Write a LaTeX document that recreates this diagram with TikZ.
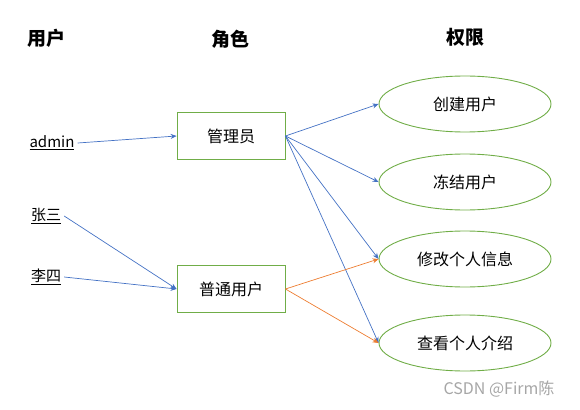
\documentclass[tikz,border=0pt]{standalone}
\usepackage{fontspec}
\setmainfont{Noto Sans CJK SC}
\usepackage{xcolor}
\usepackage{tikz}
\usetikzlibrary{shapes.geometric,arrows.meta}
\definecolor{boxgreen}{RGB}{112,173,71}
\definecolor{linkblue}{RGB}{68,114,196}
\definecolor{linkorange}{RGB}{237,125,49}
\tikzstyle{head}=[font=\fontsize{19}{21}\selectfont\bfseries]
\tikzstyle{user}=[font=\fontsize{15}{17}\selectfont,inner sep=3pt]
\tikzstyle{role}=[draw=boxgreen,line width=0.9pt,minimum width=108pt,minimum height=47pt,font=\fontsize{16}{18}\selectfont]
\tikzstyle{perm}=[ellipse,draw=boxgreen,line width=0.9pt,minimum width=172pt,minimum height=56pt,inner sep=0pt,font=\fontsize{16}{18}\selectfont]
\tikzstyle{link}=[line width=0.7pt,-{Stealth[length=6pt,width=5pt]}]

\begin{document}
\begin{tikzpicture}[x=1pt,y=-1pt]
    \useasboundingbox (0,0) rectangle (580,409);
    % column heads
    \node[head] (hUser) at (46,38) {用户};
    \node[head] (hRole) at (230,39) {角色};
    \node[head] (hPerm) at (465,37) {权限};
    % users
    \node[user] (admin) at (52,143) {\underline{admin}};
    \node[user] (zhang) at (46,216) {\underline{张三}};
    \node[user] (li) at (46,277) {\underline{李四}};
    % roles
    \node[role] (manager) at (231,136) {管理员};
    \node[role] (normal) at (231,289) {普通用户};
    % permissions
    \node[perm] (create) at (465,104) {创建用户};
    \node[perm] (freeze) at (465,182) {冻结用户};
    \node[perm] (modify) at (465,259) {修改个人信息};
    \node[perm] (view) at (465,343) {查看个人介绍};
    % links
    \draw[link,linkblue] (admin.east) -- (manager.west);
    \draw[link,linkblue] (zhang.east) -- (normal.west);
    \draw[link,linkblue] (li.east) -- (normal.west);
    \foreach \p in {create,freeze,modify,view}
      \draw[link,linkblue] (manager.east) -- (\p.west);
    \foreach \p in {modify,view}
      \draw[link,linkorange] (normal.east) -- (\p.west);
    \node[font=\fontsize{16}{18}\selectfont,text=black!35] (mark) at (499,389) {CSDN @Firm陈};
\end{tikzpicture}
\end{document}
